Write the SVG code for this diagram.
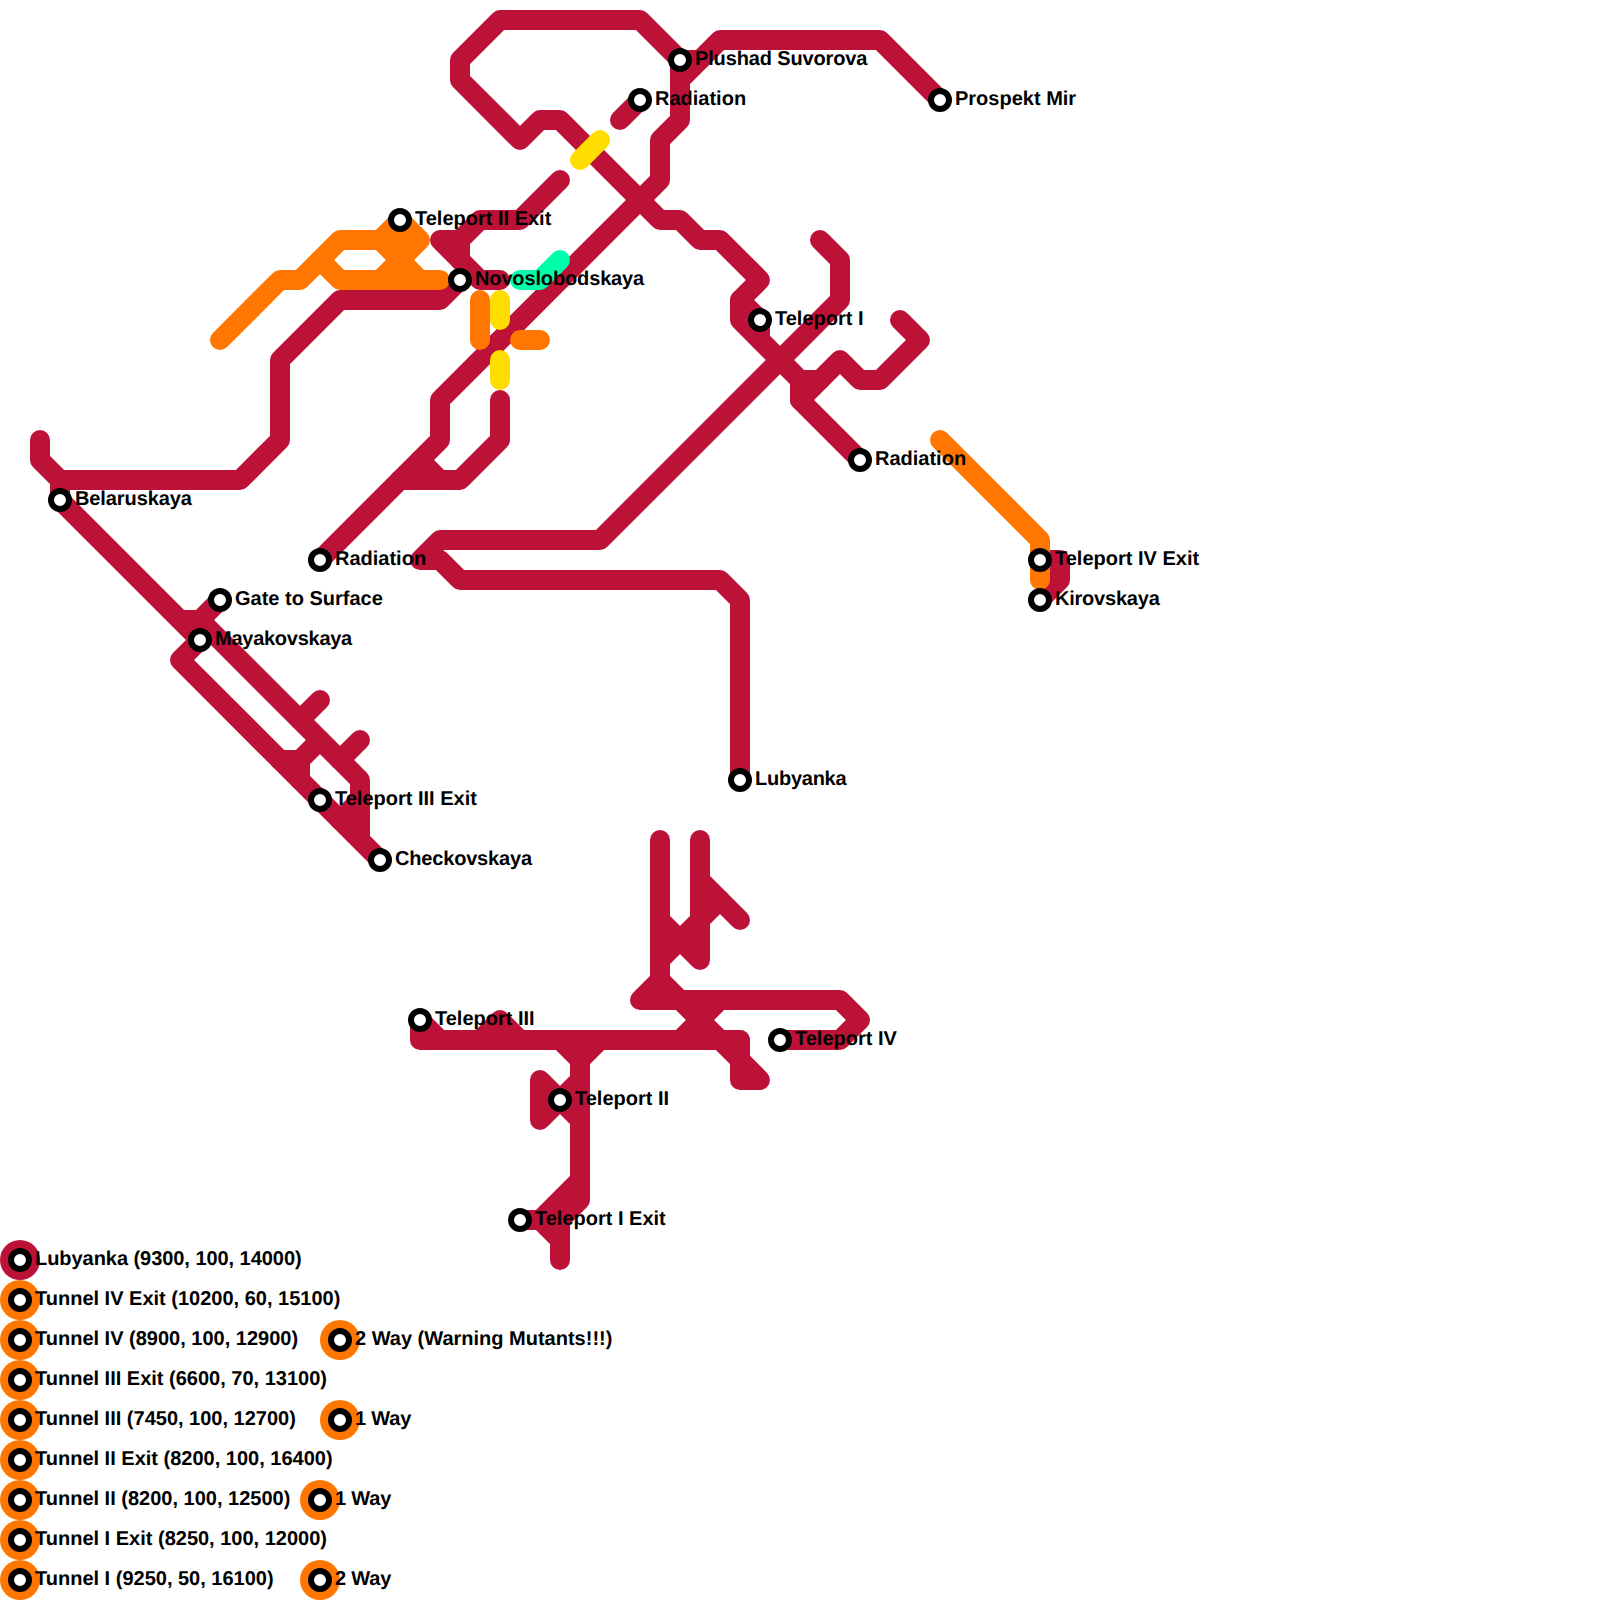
<svg xmlns="http://www.w3.org/2000/svg" width="1600" height="1600" viewBox="0 0 1600 1600">
<style>
.l{fill:none;stroke-width:20;stroke-linecap:round;stroke-linejoin:round}
.c{stroke:#bc1238}.o{stroke:#ff7700}.y{stroke:#ffdd00}.g{stroke:#00ffaa}
.s{fill:#fff;stroke:#000;stroke-width:6}
.kc{fill:#bc1238}.ko{fill:#ff7700}
text{font-family:"Liberation Sans",Arial,sans-serif;font-size:20px;font-weight:700;fill:#000;text-rendering:geometricPrecision}
</style>
<rect width="1600" height="1600" fill="#fff"/>
<g id="connectors">
<g class="l c">
<path d="M620 120L640 100"/>
<path d="M680 60L640 20H500L460 60V80L520 140L540 120H560L660 220H680L700 240H720L760 280L740 300V320L800 380V400L860 460"/>
<path d="M740 300L760 320V340"/>
<path d="M800 380H820"/>
<path d="M800 400L840 360L860 380H880L920 340L900 320"/>
<path d="M680 60H700"/>
<path d="M680 80L720 40H880L940 100"/>
<path d="M680 60V120L660 140V180L440 400V440L320 560"/>
<path d="M820 240L840 260V300L600 540H440L420 560H440L460 580H720L740 600V780"/>
<path d="M560 180L520 220H480L460 240H440L480 280H500"/>
<path d="M460 240V260"/>
<path d="M460 280L440 300H340L280 360V440L240 480H60L40 460V440"/>
<path d="M60 480V500L180 620H200L360 780V840L380 860L180 660L200 640L180 620"/>
<path d="M200 620L220 600"/>
<path d="M300 720L320 700"/>
<path d="M340 760L360 740"/>
<path d="M280 760H300L320 740"/>
<path d="M300 760V780"/>
<path d="M360 800L340 820"/>
<path d="M500 400V440L460 480H400"/>
<path d="M420 460L440 480"/>
<path d="M1040 560H1060V580L1040 600"/>
<path d="M660 840V980L680 1000L760 1080H740V1040"/>
<path d="M700 840V960L660 920"/>
<path d="M700 880L740 920"/>
<path d="M660 960L720 900"/>
<path d="M660 980L640 1000H840L860 1020L840 1040H780"/>
<path d="M720 1000L680 1040"/>
<path d="M420 1020V1040H740"/>
<path d="M420 1020L440 1040"/>
<path d="M480 1040L500 1020L520 1040"/>
<path d="M560 1040L580 1060L600 1040"/>
<path d="M580 1060V1200L560 1220H520"/>
<path d="M580 1180L540 1220L560 1240"/>
<path d="M560 1220V1260"/>
<path d="M580 1080L540 1120V1080L580 1120"/>
</g>
<g class="l o">
<path d="M220 340L280 280H300L340 240H380L420 280"/>
<path d="M320 260L340 280H440"/>
<path d="M380 240L400 220L420 240L380 280"/>
<path d="M400 220V280"/>
<path d="M940 440L1040 540V580"/>
<path d="M480 300V340"/>
<path d="M520 340H540"/>
</g>
<g class="l y">
<path d="M580 160L600 140"/>
<path d="M500 300V320"/>
<path d="M500 360V380"/>
</g>
<g class="l g">
<path d="M520 280H540L560 260"/>
</g>
</g>
<g id="n1"><circle class="s" cx="680" cy="60" r="9"/><text x="695" y="65" letter-spacing="-.14">Plushad Suvorova</text></g>
<g id="n2"><circle class="s" cx="640" cy="100" r="9"/><text x="655" y="105">Radiation</text></g>
<g id="n3"><circle class="s" cx="940" cy="100" r="9"/><text x="955" y="105">Prospekt Mir</text></g>
<g id="n4"><circle class="s" cx="400" cy="220" r="9"/><text x="415" y="225">Teleport II Exit</text></g>
<g id="n5"><circle class="s" cx="460" cy="280" r="9"/><text x="475" y="285" letter-spacing="-.14">Novoslobodskaya</text></g>
<g id="n6"><circle class="s" cx="760" cy="320" r="9"/><text x="775" y="325">Teleport I</text></g>
<g id="n7"><circle class="s" cx="860" cy="460" r="9"/><text x="875" y="465">Radiation</text></g>
<g id="n8"><circle class="s" cx="60" cy="500" r="9"/><text x="75" y="505" letter-spacing="-.1">Belaruskaya</text></g>
<g id="n9"><circle class="s" cx="320" cy="560" r="9"/><text x="335" y="565">Radiation</text></g>
<g id="n10"><circle class="s" cx="220" cy="600" r="9"/><text x="235" y="605">Gate to Surface</text></g>
<g id="n11"><circle class="s" cx="200" cy="640" r="9"/><text x="215" y="645" letter-spacing="-.26">Mayakovskaya</text></g>
<g id="n12"><circle class="s" cx="320" cy="800" r="9"/><text x="335" y="805">Teleport III Exit</text></g>
<g id="n13"><circle class="s" cx="380" cy="860" r="9"/><text x="395" y="865" letter-spacing="-.18">Checkovskaya</text></g>
<g id="n14"><circle class="s" cx="1040" cy="560" r="9"/><text x="1055" y="565">Teleport IV Exit</text></g>
<g id="n15"><circle class="s" cx="1040" cy="600" r="9"/><text x="1055" y="605" letter-spacing="-.22">Kirovskaya</text></g>
<g id="n16"><circle class="s" cx="740" cy="780" r="9"/><text x="755" y="785" letter-spacing="-.25">Lubyanka</text></g>
<g id="n17"><circle class="s" cx="420" cy="1020" r="9"/><text x="435" y="1025">Teleport III</text></g>
<g id="n18"><circle class="s" cx="780" cy="1040" r="9"/><text x="795" y="1045">Teleport IV</text></g>
<g id="n19"><circle class="s" cx="560" cy="1100" r="9"/><text x="575" y="1105">Teleport II</text></g>
<g id="n20"><circle class="s" cx="520" cy="1220" r="9"/><text x="535" y="1225">Teleport I Exit</text></g>
<g id="legend">
<g id="k1"><circle class="kc" cx="20" cy="1260" r="20"/><circle class="s" cx="20" cy="1260" r="9"/><text x="35" y="1265" letter-spacing="-.05">Lubyanka (9300, 100, 14000)</text></g>
<g id="k2"><circle class="ko" cx="20" cy="1300" r="20"/><circle class="s" cx="20" cy="1300" r="9"/><text x="35" y="1305">Tunnel IV Exit (10200, 60, 15100)</text></g>
<g id="k3"><circle class="ko" cx="20" cy="1340" r="20"/><circle class="s" cx="20" cy="1340" r="9"/><text x="35" y="1345">Tunnel IV (8900, 100, 12900)</text></g>
<g id="k4"><circle class="ko" cx="20" cy="1380" r="20"/><circle class="s" cx="20" cy="1380" r="9"/><text x="35" y="1385">Tunnel III Exit (6600, 70, 13100)</text></g>
<g id="k5"><circle class="ko" cx="20" cy="1420" r="20"/><circle class="s" cx="20" cy="1420" r="9"/><text x="35" y="1425">Tunnel III (7450, 100, 12700)</text></g>
<g id="k6"><circle class="ko" cx="20" cy="1460" r="20"/><circle class="s" cx="20" cy="1460" r="9"/><text x="35" y="1465">Tunnel II Exit (8200, 100, 16400)</text></g>
<g id="k7"><circle class="ko" cx="20" cy="1500" r="20"/><circle class="s" cx="20" cy="1500" r="9"/><text x="35" y="1505">Tunnel II (8200, 100, 12500)</text></g>
<g id="k8"><circle class="ko" cx="20" cy="1540" r="20"/><circle class="s" cx="20" cy="1540" r="9"/><text x="35" y="1545">Tunnel I Exit (8250, 100, 12000)</text></g>
<g id="k9"><circle class="ko" cx="20" cy="1580" r="20"/><circle class="s" cx="20" cy="1580" r="9"/><text x="35" y="1585">Tunnel I (9250, 50, 16100)</text></g>
<g id="k10"><circle class="ko" cx="340" cy="1340" r="20"/><circle class="s" cx="340" cy="1340" r="9"/><text x="355" y="1345">2 Way (Warning Mutants!!!)</text></g>
<g id="k11"><circle class="ko" cx="340" cy="1420" r="20"/><circle class="s" cx="340" cy="1420" r="9"/><text x="355" y="1425" letter-spacing="-.2">1 Way</text></g>
<g id="k12"><circle class="ko" cx="320" cy="1500" r="20"/><circle class="s" cx="320" cy="1500" r="9"/><text x="335" y="1505" letter-spacing="-.2">1 Way</text></g>
<g id="k13"><circle class="ko" cx="320" cy="1580" r="20"/><circle class="s" cx="320" cy="1580" r="9"/><text x="335" y="1585" letter-spacing="-.2">2 Way</text></g>
</g>
</svg>
